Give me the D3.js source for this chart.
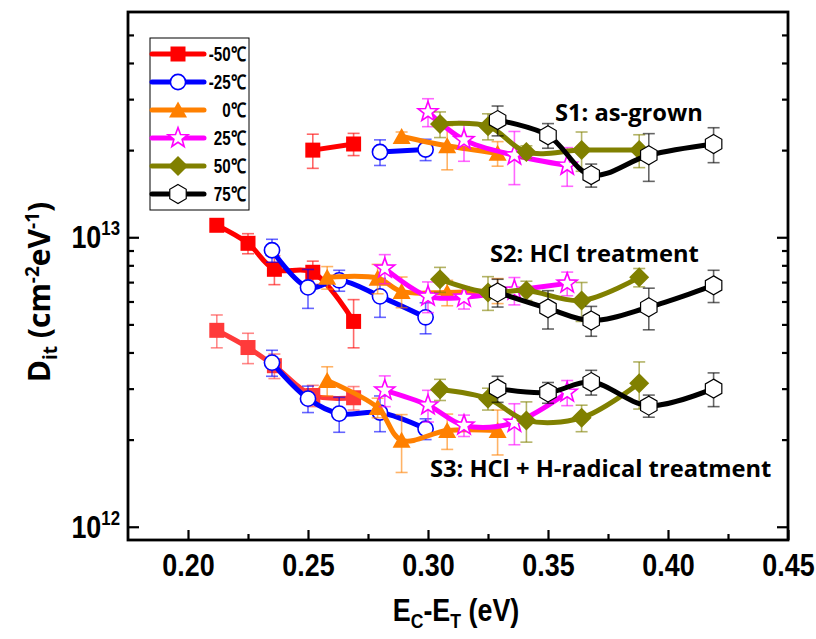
<!DOCTYPE html>
<html><head><meta charset="utf-8">
<script src="https://cdn.jsdelivr.net/npm/d3@7/dist/d3.min.js"></script>
<style>
body{margin:0;background:#fff}
.cond{font-family:'Liberation Sans',Arial,sans-serif;font-weight:bold}
.seg{font-family:'Open Sans','Noto Sans',sans-serif;font-weight:bold}
</style>
</head><body>
<svg id="c" width="816" height="639"></svg>
<script>
// ---------- data ----------
const temps = ["-50\u2103", "-25\u2103", "0\u2103", "25\u2103", "50\u2103", "75\u2103"];
const colors = ["#ff0000", "#0000ff", "#ff8000", "#ff00ff", "#808000", "#000000"];
const shapes = ["square", "circle", "triangle", "star", "diamond", "hexagon"];
const sampleLabels = ["S1: as-grown", "S2: HCl treatment", "S3: HCl + H-radical treatment"];
const xTicks = [0.20, 0.25, 0.30, 0.35, 0.40, 0.45];
const xMinor = [0.225, 0.275, 0.325, 0.375, 0.425];
const yTicks = [1e12, 1e13];
const yMinor = [2e12,3e12,4e12,5e12,6e12,7e12,8e12,9e12,2e13,3e13,4e13,5e13];

// energy positions (eV) per temperature
const xM50 = [0.212, 0.225, 0.236, 0.252, 0.269];
const xM25 = [0.235, 0.250, 0.263, 0.280, 0.299];
const xP0  = [0.258, 0.279, 0.289, 0.308, 0.329];
const xP25 = [0.282, 0.300, 0.315, 0.336, 0.358];
const xP50 = [0.305, 0.325, 0.341, 0.364, 0.388];
const xP75 = [0.329, 0.350, 0.368, 0.392, 0.419];

// S1: as-grown (Dit, cm^-2 eV^-1), null = not measured
const s1M50 = [null, null, null, 2.00e13, 2.10e13];
const s1M50e = [null, null, null, 0.27e13, 0.185e13];
const s1M25 = [null, null, null, 1.97e13, 2.01e13];
const s1M25e = [null, null, null, 0.20e13, 0.17e13];
const s1P0 = [null, null, 2.23e13, 2.07e13, 1.95e13];
const s1P0e = [null, null, 0.08e13, 0.36e13, 0.19e13];
const s1P25 = [null, 2.71e13, 2.17e13, 1.92e13, 1.77e13];
const s1P25e = [null, 0.30e13, 0.34e13, 0.40e13, 0.27e13];
const s1P50 = [2.46e13, 2.42e13, 1.97e13, 2.00e13, 2.00e13];
const s1P50e = [0.25e13, 0.25e13, 0.10e13, 0.31e13, 0.26e13];
const s1P75 = [2.54e13, 2.25e13, 1.64e13, 1.92e13, 2.10e13];
const s1P75e = [0.30e13, 0.22e13, 0.15e13, 0.36e13, 0.29e13];

// S2: HCl treatment
const s2M50 = [11.0e12, 9.53e12, 7.75e12, 7.57e12, 5.12e12];
const s2M50e = [0, 0.76e12, 0.89e12, 0.70e12, 0.97e12];
const s2M25 = [9.02e12, 6.71e12, 7.10e12, 6.25e12, 5.29e12];
const s2M25e = [0.82e12, 1.03e12, 0.59e12, 0.96e12, 0.65e12];
const s2P0 = [7.27e12, 7.22e12, 6.50e12, 6.45e12, 6.55e12];
const s2P0e = [0.65e12, 0.84e12, 0.79e12, 0.65e12, 0.65e12];
const s2P25 = [7.81e12, 6.25e12, 6.20e12, 6.55e12, 6.93e12];
const s2P25e = [0.90e12, 0.76e12, 0.55e12, 0.71e12, 0.65e12];
const s2P50 = [7.16e12, 6.45e12, 6.55e12, 6.05e12, 7.27e12];
const s2P50e = [0.71e12, 0.86e12, 0.50e12, 0.93e12, 0.53e12];
const s2P75 = [6.45e12, 5.68e12, 5.16e12, 5.73e12, 6.82e12];
const s2P75e = [0.71e12, 0.86e12, 0.61e12, 0.94e12, 0.87e12];

// S3: HCl + H-radical treatment
const s3M50 = [4.77e12, 4.16e12, 3.60e12, 2.84e12, 2.79e12];
const s3M50e = [0.62e12, 0.50e12, 0.35e12, 0.24e12, 0.26e12];
const s3M25 = [3.69e12, 2.77e12, 2.46e12, 2.48e12, 2.18e12];
const s3M25e = [0.38e12, 0.29e12, 0.34e12, 0.35e12, 0.18e12];
const s3P0 = [3.20e12, 2.58e12, 1.99e12, 2.15e12, 2.15e12];
const s3P0e = [0.37e12, 0.20e12, 0.45e12, 0.30e12, 0.38e12];
const s3P25 = [2.96e12, 2.63e12, 2.24e12, 2.29e12, 2.91e12];
const s3P25e = [0.36e12, 0.33e12, 0.19e12, 0.37e12, 0.29e12];
const s3P50 = [2.98e12, 2.77e12, 2.33e12, 2.38e12, 3.13e12];
const s3P50e = [0.25e12, 0.24e12, 0.37e12, 0.25e12, 0.58e12];
const s3P75 = [3.00e12, 2.91e12, 3.16e12, 2.62e12, 3.00e12];
const s3P75e = [0.31e12, 0.24e12, 0.31e12, 0.23e12, 0.40e12];

const xs = [xM50, xM25, xP0, xP25, xP50, xP75];
const S1 = [s1M50, s1M25, s1P0, s1P25, s1P50, s1P75];
const S1e = [s1M50e, s1M25e, s1P0e, s1P25e, s1P50e, s1P75e];
const S2 = [s2M50, s2M25, s2P0, s2P25, s2P50, s2P75];
const S2e = [s2M50e, s2M25e, s2P0e, s2P25e, s2P50e, s2P75e];
const S3 = [s3M50, s3M25, s3P0, s3P25, s3P50, s3P75];
const S3e = [s3M50e, s3M25e, s3P0e, s3P25e, s3P50e, s3P75e];
// annotation anchors (data coordinates)
const annX = [0.3529, 0.3258, 0.3008];
const annY = [2.52e13, 8.2e12, 1.48e12];

// ---------- layout ----------
const L = 128, T = 12, W = 660, H = 528;
const SX = 0.84; // horizontal condensing of axis fonts
const svg = d3.select("#c");
const x = d3.scaleLinear().domain([0.175, 0.45]).range([L, L + W]);
const y = d3.scaleLog().domain([9e11, 6e13]).range([T + H, T]);

function symPath(shape) {
  switch (shape) {
    case "square": return "M-7.5,-7.5H7.5V7.5H-7.5Z";
    case "triangle": return "M0,-8.5L9,7.5L-9,7.5Z";
    case "diamond": return "M0,-10L10,0L0,10L-10,0Z";
    case "hexagon": {
      const r = 9.5, p = [];
      for (let i = 0; i < 6; i++) { const a = (-90 + 60 * i) * Math.PI / 180; p.push([r * Math.cos(a), r * Math.sin(a)]); }
      return "M" + p.map(d => d.join(",")).join("L") + "Z";
    }
    case "star": {
      const ro = 10.5, ri = 4.3, p = [];
      for (let i = 0; i < 10; i++) { const r = i % 2 ? ri : ro; const a = (-90 + 36 * i) * Math.PI / 180; p.push([r * Math.cos(a), r * Math.sin(a)]); }
      return "M" + p.map(d => d.join(",")).join("L") + "Z";
    }
    case "circle": return d3.symbol(d3.symbolCircle, Math.PI * 7.6 * 7.6)();
  }
}
function drawMarker(g, shape, color, cx, cy) {
  const hollow = (shape === "circle" || shape === "star" || shape === "hexagon");
  g.append("path").attr("d", symPath(shape)).attr("transform", `translate(${cx},${cy})`)
    .attr("fill", hollow ? "#fff" : color)
    .attr("stroke", hollow ? color : "none")
    .attr("stroke-width", shape === "hexagon" ? 1.2 : 1.6);
}

const line = d3.line().x(d => x(d.x)).y(d => y(d.y)).curve(d3.curveCatmullRom.alpha(0.5));
const plot = svg.append("g");

const sets = [[S1, S1e], [S2, S2e], [S3, S3e]];
for (let ti = 0; ti < 6; ti++) {
  sets.forEach(([S, Se], si) => {
    const col = (ti === 0 && si === 2) ? "#ff3a3a" : colors[ti];
    const pts = xs[ti].map((xv, i) => ({x: xv, y: S[ti][i], e: Se[ti][i]})).filter(d => d.y != null);
    const g = plot.append("g");
    g.append("path").attr("d", line(pts)).attr("fill", "none").attr("stroke", col)
      .attr("stroke-width", 5).attr("stroke-linejoin", "round");
    pts.forEach(d => {
      if (!d.e) return;
      const cx = x(d.x), y1 = y(d.y + d.e), y2 = y(d.y - d.e);
      const eb = g.append("g").attr("stroke", col).attr("stroke-opacity", 0.6).attr("stroke-width", 1.6);
      eb.append("line").attr("x1", cx).attr("x2", cx).attr("y1", y1).attr("y2", y2);
      eb.append("line").attr("x1", cx - 6).attr("x2", cx + 6).attr("y1", y1).attr("y2", y1);
      eb.append("line").attr("x1", cx - 6).attr("x2", cx + 6).attr("y1", y2).attr("y2", y2);
    });
    pts.forEach(d => drawMarker(g, shapes[ti], col, x(d.x), y(d.y)));
  });
}

// ---------- axes ----------
const ax = svg.append("g");
const xa = ax.append("g").attr("transform", `translate(0,${T + H})`)
  .call(d3.axisBottom(x).tickValues(xTicks).tickSizeInner(-10).tickSizeOuter(0).tickPadding(13).tickFormat(d3.format(".2f")));
xa.select(".domain").remove();
xa.selectAll("line").attr("stroke-width", 2.2);
xa.selectAll("text").attr("class", "cond").attr("font-size", 32).attr("fill", "#000")
  .attr("transform", `scale(${SX},1)`);
const xm = ax.append("g").attr("transform", `translate(0,${T + H})`)
  .call(d3.axisBottom(x).tickValues(xMinor).tickSizeInner(-6).tickSizeOuter(0).tickFormat(""));
xm.select(".domain").remove(); xm.selectAll("line").attr("stroke-width", 2.2);

[[d3.axisLeft, L], [d3.axisRight, L + W]].forEach(([fn, px]) => {
  const ya = ax.append("g").attr("transform", `translate(${px},0)`)
    .call(fn(y).tickValues(yTicks).tickSizeInner(-11).tickSizeOuter(0).tickFormat(""));
  ya.select(".domain").remove(); ya.selectAll("line").attr("stroke-width", 2.2);
  const ym = ax.append("g").attr("transform", `translate(${px},0)`)
    .call(fn(y).tickValues(yMinor).tickSizeInner(-6).tickSizeOuter(0).tickFormat(""));
  ym.select(".domain").remove(); ym.selectAll("line").attr("stroke-width", 2.2);
});
yTicks.forEach(v => {
  const t = ax.append("text").attr("class", "cond")
    .attr("transform", `translate(120,${y(v) + 11}) scale(${SX},1)`)
    .attr("text-anchor", "end").attr("font-size", 32);
  t.append("tspan").text("10");
  t.append("tspan").attr("font-size", 20).attr("dy", -13).text(Math.round(Math.log10(v)));
});
svg.append("rect").attr("x", L).attr("y", T).attr("width", W).attr("height", H)
  .attr("fill", "none").attr("stroke", "#000").attr("stroke-width", 2.8);

// axis titles
const xt = svg.append("text").attr("class", "cond")
  .attr("transform", `translate(456,621) scale(${SX},1)`)
  .attr("text-anchor", "middle").attr("font-size", 32);
xt.append("tspan").text("E");
xt.append("tspan").attr("font-size", 21).attr("dy", 7).text("C");
xt.append("tspan").attr("dy", -7).text("-E");
xt.append("tspan").attr("font-size", 21).attr("dy", 7).text("T");
xt.append("tspan").attr("dy", -7).text(" (eV)");

const yt = svg.append("text").attr("class", "seg").attr("transform", "translate(50,292) rotate(-90)")
  .attr("text-anchor", "middle").attr("font-size", 30);
yt.append("tspan").text("D");
yt.append("tspan").attr("font-size", 19).attr("dy", 7).text("it");
yt.append("tspan").attr("dy", -7).text(" (cm");
yt.append("tspan").attr("font-size", 19).attr("dy", -11).text("-2");
yt.append("tspan").attr("dy", 11).text("eV");
yt.append("tspan").attr("font-size", 19).attr("dy", -11).text("-1");
yt.append("tspan").attr("dy", 11).text(")");

sampleLabels.forEach((s, i) => {
  svg.append("text").attr("class", "seg").attr("x", x(annX[i])).attr("y", y(annY[i]))
    .attr("font-size", 23.7).text(s);
});

// legend
const lg = svg.append("g");
lg.append("rect").attr("x", 150).attr("y", 38).attr("width", 99).attr("height", 172)
  .attr("fill", "#fff").attr("stroke", "#000").attr("stroke-width", 1);
temps.forEach((t, i) => {
  const ly = 54 + i * 28;
  lg.append("line").attr("x1", 152).attr("x2", 204).attr("y1", ly).attr("y2", ly)
    .attr("stroke", colors[i]).attr("stroke-width", 5).attr("stroke-linecap", "round");
  drawMarker(lg, shapes[i], colors[i], 178, ly);
  lg.append("text").attr("class", "cond")
    .attr("transform", `translate(246,${ly + 7}) scale(0.76,1)`)
    .attr("text-anchor", "end").attr("font-size", 20).text(t);
});
</script>
</body></html>
